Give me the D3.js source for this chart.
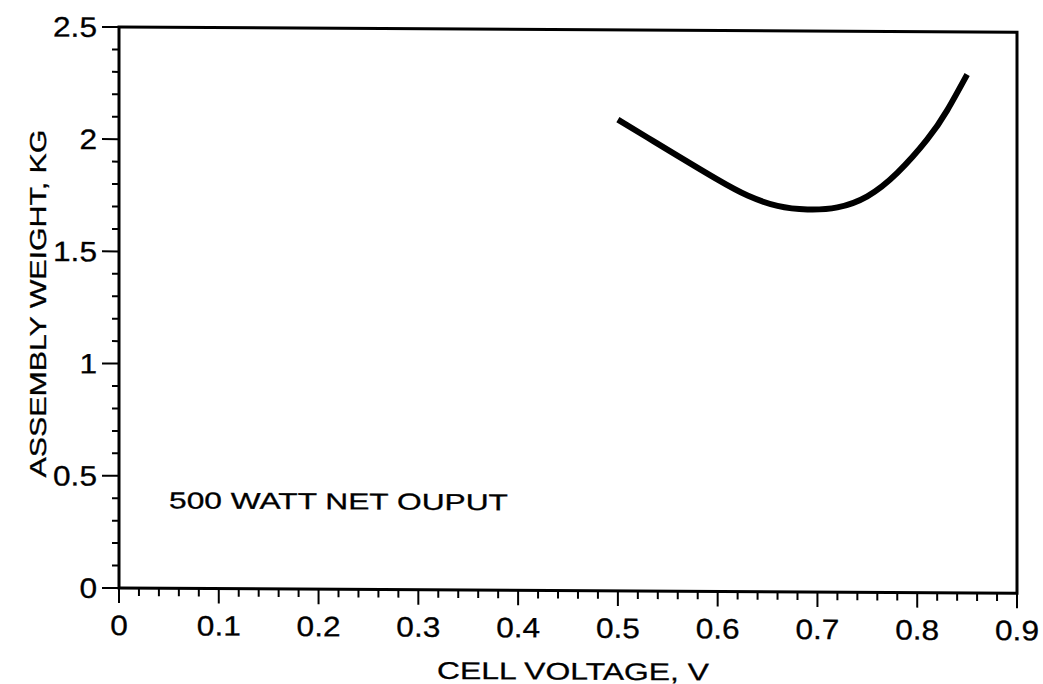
<!DOCTYPE html>
<html>
<head>
<meta charset="utf-8">
<script src="https://cdn.jsdelivr.net/npm/d3@7"></script>
<style>
  body { margin: 0; background: #fff; }
  svg { display: block; }
  text { fill: #000; stroke: #000; stroke-width: 0.3px; }
</style>
</head>
<body>
<script>
// Assembly weight versus cell voltage, 500 W net output
const voltage = [0.50, 0.53, 0.56, 0.60, 0.63, 0.66, 0.69, 0.72, 0.75, 0.78, 0.81, 0.83, 0.85];
const weight  = [2.10, 2.02, 1.94, 1.835, 1.765, 1.72, 1.705, 1.715, 1.765, 1.87, 2.02, 2.15, 2.31];

const xTickValues = [0, 0.1, 0.2, 0.3, 0.4, 0.5, 0.6, 0.7, 0.8, 0.9];
const xTickLabels = ["0", "0.1", "0.2", "0.3", "0.4", "0.5", "0.6", "0.7", "0.8", "0.9"];
const yTickValues = [0, 0.5, 1, 1.5, 2, 2.5];
const yTickLabels = ["0", "0.5", "1", "1.5", "2", "2.5"];

const xTitle = "CELL VOLTAGE, V";
const yTitle = "ASSEMBLY WEIGHT, KG";
const noteText = "500 WATT NET OUPUT";

const W = 1043, H = 684;
const plotLeft = 119, plotRight = 1017, plotTop = 27, plotBottom = 588;
const FONT = "'Liberation Sans', Arial, Helvetica, sans-serif";

const x = d3.scaleLinear().domain([0, 0.9]).range([plotLeft, plotRight]);
const y = d3.scaleLinear().domain([0, 2.5]).range([plotBottom, plotTop]);

const svg = d3.select("body").append("svg")
  .attr("width", W).attr("height", H)
  .attr("viewBox", `0 0 ${W} ${H}`);

// the whole plot sits on a very slight downward slope to the right
const k = 0.0058;
const g = svg.append("g").attr("transform", `matrix(1,${k},0,1,0,${-plotLeft * k})`);

// frame
g.append("rect")
  .attr("x", plotLeft).attr("y", plotTop)
  .attr("width", plotRight - plotLeft).attr("height", plotBottom - plotTop)
  .attr("fill", "none").attr("stroke", "#000").attr("stroke-width", 3);

// x ticks (minor every 0.02, major every 0.1), pointing down
g.append("g").selectAll("line").data(x.ticks(45)).join("line")
  .attr("x1", d => x(d)).attr("x2", d => x(d))
  .attr("y1", plotBottom)
  .attr("y2", d => plotBottom + (Math.abs(d * 10 - Math.round(d * 10)) < 1e-6 ? 15 : 8))
  .attr("stroke", "#000").attr("stroke-width", 2);

// y ticks (minor every 0.1, major every 0.5), pointing left
g.append("g").selectAll("line").data(y.ticks(25)).join("line")
  .attr("y1", d => y(d)).attr("y2", d => y(d))
  .attr("x1", plotLeft)
  .attr("x2", d => plotLeft - (Math.abs(d * 2 - Math.round(d * 2)) < 1e-6 ? 17 : 7))
  .attr("stroke", "#000").attr("stroke-width", 2);

// x tick labels
g.append("g").selectAll("text").data(xTickValues).join("text")
  .attr("transform", d => `translate(${x(d)},${plotBottom + 47}) scale(1.13,1)`)
  .attr("text-anchor", "middle")
  .attr("font-family", FONT).attr("font-size", 28)
  .text((d, i) => xTickLabels[i]);

// y tick labels
g.append("g").selectAll("text").data(yTickValues).join("text")
  .attr("transform", d => `translate(${plotLeft - 22},${y(d) + 10}) scale(1.13,1)`)
  .attr("text-anchor", "end")
  .attr("font-family", FONT).attr("font-size", 28)
  .text((d, i) => yTickLabels[i]);

// axis titles
g.append("text")
  .attr("x", 437).attr("y", 677)
  .attr("font-family", FONT).attr("font-size", 24)
  .attr("textLength", 272).attr("lengthAdjust", "spacingAndGlyphs")
  .text(xTitle);

g.append("text")
  .attr("transform", "translate(46,478) rotate(-90)")
  .attr("font-family", FONT).attr("font-size", 23)
  .attr("textLength", 348).attr("lengthAdjust", "spacingAndGlyphs")
  .text(yTitle);

// annotation
g.append("text")
  .attr("x", 169).attr("y", 508)
  .attr("font-family", FONT).attr("font-size", 23)
  .attr("textLength", 339).attr("lengthAdjust", "spacingAndGlyphs")
  .text(noteText);

// curve
const pts = voltage.map((v, i) => [v, weight[i]]);
const line = d3.line()
  .x(d => x(d[0])).y(d => y(d[1]))
  .curve(d3.curveNatural);

g.append("path")
  .attr("d", line(pts))
  .attr("fill", "none").attr("stroke", "#000")
  .attr("stroke-width", 6).attr("stroke-linecap", "butt");
</script>
</body>
</html>
